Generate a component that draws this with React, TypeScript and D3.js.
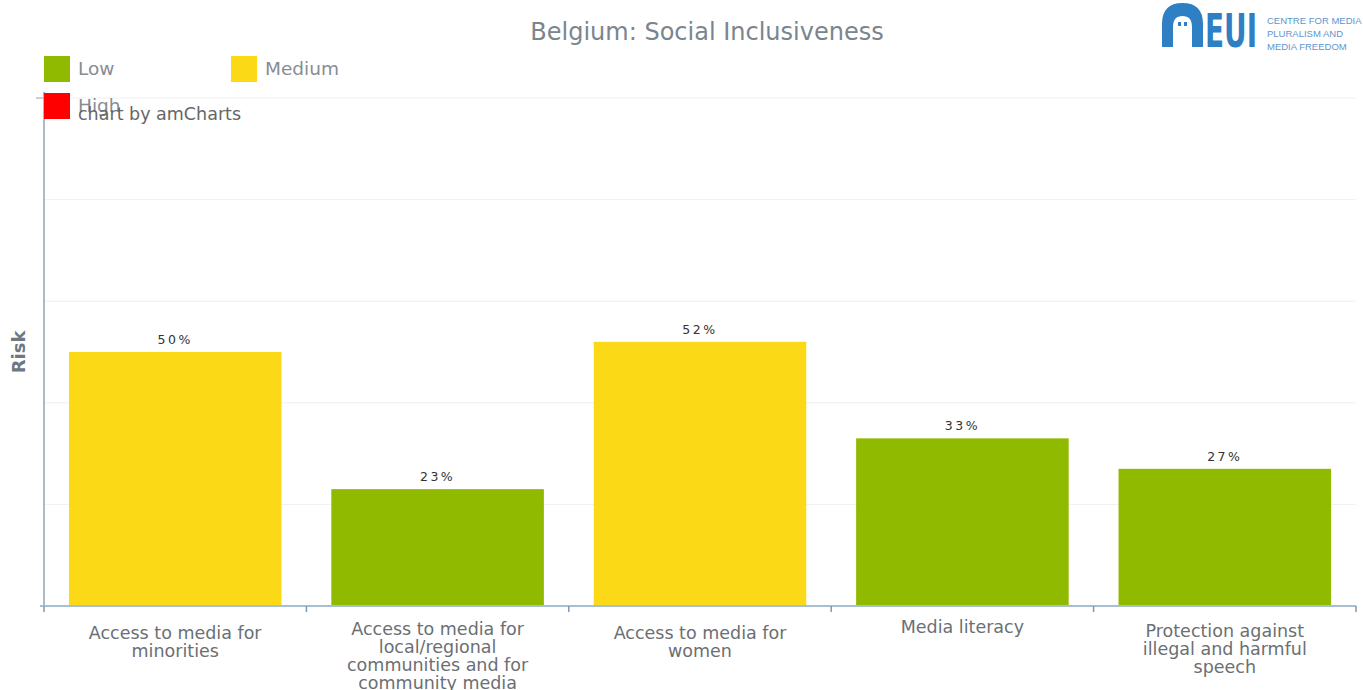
import React from "react";
import * as d3 from "d3";

const categories = [
  "Access to media for minorities",
  "Access to media for local/regional communities and for community media",
  "Access to media for women",
  "Media literacy",
  "Protection against illegal and harmful speech",
];
const values = [50, 23, 52, 33, 27];
const riskLevels = ["Medium", "Low", "Medium", "Low", "Low"];
const legendItems = ["Low", "Medium", "High"];
const yTicks = [0, 20, 40, 60, 80, 100];
const title = "Belgium: Social Inclusiveness";

const colorMap: Record<string, string> = {
  Low: "#8fba00",
  Medium: "#fbd917",
  High: "#ff0000",
};

function wrap(s: string, max: number): string[] {
  const words = s.split(" ");
  const lines: string[] = [];
  let cur = "";
  for (const w of words) {
    if (!cur) cur = w;
    else if ((cur + " " + w).length <= max) cur += " " + w;
    else {
      lines.push(cur);
      cur = w;
    }
  }
  if (cur) lines.push(cur);
  return lines;
}

export default function App() {
  const W = 1363;
  const H = 690;
  const left = 44;
  const right = 1356;
  const top = 98;
  const bottom = 606;
  const font = "Verdana, 'DejaVu Sans', sans-serif";

  const x = d3
    .scaleBand<string>()
    .domain(categories)
    .range([left, right])
    .paddingInner(0.19)
    .paddingOuter(0.095);
  const y = d3.scaleLinear().domain([0, 100]).range([bottom, top]);
  const step = (right - left) / categories.length;

  return (
    <svg
      width={W}
      height={H}
      style={{ position: "fixed", left: 0, top: 0, background: "#fff" }}
      fontFamily={font}
    >
      {/* grid */}
      {yTicks.map((t) => (
        <line key={t} x1={left} x2={right} y1={y(t)} y2={y(t)} stroke="#f0f0f0" strokeWidth={1} />
      ))}
      {/* bars */}
      {categories.map((c, i) => (
        <g key={c}>
          <rect
            x={x(c)}
            y={y(values[i])}
            width={x.bandwidth()}
            height={bottom - y(values[i])}
            fill={colorMap[riskLevels[i]]}
          />
          <text
            x={(x(c) as number) + x.bandwidth() / 2}
            y={y(values[i]) - 8}
            textAnchor="middle"
            fontSize={12.5}
            letterSpacing={2.5}
            fill="#333"
          >
            {values[i]}%
          </text>
        </g>
      ))}
      {/* left axis */}
      <line x1={left} x2={left} y1={92} y2={bottom} stroke="#8ea4b8" strokeWidth={1.5} />
      <line x1={36} x2={left} y1={top} y2={top} stroke="#8ea4b8" strokeWidth={1} />
      {/* bottom axis */}
      <line x1={left - 4} x2={right} y1={bottom} y2={bottom} stroke="#a7bfd3" strokeWidth={2} />
      {d3.range(categories.length + 1).map((i) => (
        <line
          key={i}
          x1={left + i * step}
          x2={left + i * step}
          y1={bottom}
          y2={bottom + 6}
          stroke="#7f9ab3"
          strokeWidth={1.5}
        />
      ))}
      {/* category labels */}
      {categories.map((c) => {
        const lines = wrap(c, 20);
        const cx = (x(c) as number) + x.bandwidth() / 2;
        const y0 = lines.length === 1 ? 633 : lines.length === 2 ? 639 : lines.length === 3 ? 637 : 635;
        return (
          <text key={c} x={cx} y={y0} textAnchor="middle" fontSize={17.5} fill="#6b6f73">
            {lines.map((l, j) => (
              <tspan key={j} x={cx} y={y0 + j * 18}>
                {l}
              </tspan>
            ))}
          </text>
        );
      })}
      {/* y axis title */}
      <text
        transform="translate(25,352) rotate(-90)"
        textAnchor="middle"
        fontSize={18}
        fontWeight="bold"
        fill="#6d7883"
      >
        Risk
      </text>
      {/* title */}
      <text x={707} y={40} textAnchor="middle" fontSize={24} fill="#7b858e">
        {title}
      </text>
      {/* legend */}
      {legendItems.map((l, i) => {
        const lx = i === 1 ? 231 : 44;
        const ly = i === 2 ? 93 : 56;
        return (
          <g key={l}>
            <rect x={lx} y={ly} width={26} height={26} fill={colorMap[l]} />
            <text x={lx + 34} y={ly + 19} fontSize={18.5} fill="#878d93">
              {l}
            </text>
          </g>
        );
      })}
      <text x={78} y={120} fontSize={17.5} fill="#666">
        chart by amCharts
      </text>
      {/* logo */}
      <g>
        <path
          d="M1162,47 L1162,24 Q1162,3 1182.5,3 Q1203,3 1203,24 L1203,47 L1192,47 L1192,27 Q1192,16 1182.5,16 Q1173,16 1173,27 L1173,47 Z"
          fill="#2f7fc4"
        />
        <rect x={1178} y={22} width={3} height={4} fill="#2f7fc4" />
        <rect x={1184} y={22} width={3} height={4} fill="#2f7fc4" />
        <text x={1205} y={47} fontSize={46} fontWeight="bold" fill="#2f7fc4" fontFamily="'Liberation Sans Narrow', 'DejaVu Sans Condensed', sans-serif" textLength={52} lengthAdjust="spacingAndGlyphs">
          EUI
        </text>
        <text x={1267} y={24} fontSize={9.5} fill="#5f95cc" fontFamily="'Liberation Sans Narrow', sans-serif">CENTRE FOR MEDIA</text>
        <text x={1267} y={37} fontSize={9.5} fill="#5f95cc" fontFamily="'Liberation Sans Narrow', sans-serif">PLURALISM AND</text>
        <text x={1267} y={50} fontSize={9.5} fill="#5f95cc" fontFamily="'Liberation Sans Narrow', sans-serif">MEDIA FREEDOM</text>
      </g>
    </svg>
  );
}
